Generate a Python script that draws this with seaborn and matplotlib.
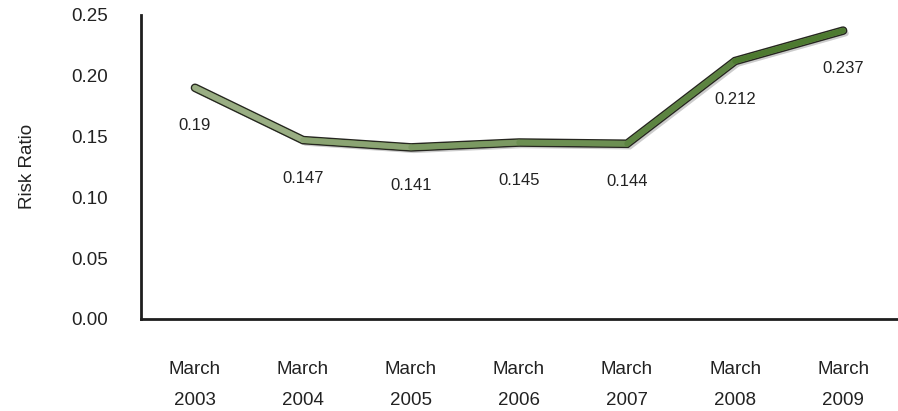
"""
Risk ratio by year, single line with value labels
"""

import numpy as np
import pandas as pd
import matplotlib
matplotlib.use("Agg")
import matplotlib.pyplot as plt
import matplotlib.patheffects as pe
from matplotlib.collections import LineCollection
from matplotlib.colors import LinearSegmentedColormap
import seaborn as sns

# data
periods = ["March\n2003", "March\n2004", "March\n2005", "March\n2006",
           "March\n2007", "March\n2008", "March\n2009"]
risk_ratio = [0.19, 0.147, 0.141, 0.145, 0.144, 0.212, 0.237]
value_labels = ["0.19", "0.147", "0.141", "0.145", "0.144", "0.212", "0.237"]
y_ticks = [0.00, 0.05, 0.10, 0.15, 0.20, 0.25]

sns.set_theme(style="white")
plt.rcParams["font.family"] = ["Liberation Sans", "DejaVu Sans"]

df = pd.DataFrame({"pos": np.arange(len(periods)), "ratio": risk_ratio})

fig = plt.figure(figsize=(8.98, 4.11), dpi=100)
ax = fig.add_axes([0.157, 0.224, 0.842, 0.740])

# outlined base line with a soft shadow
sns.lineplot(
    data=df, x="pos", y="ratio", ax=ax, color="#6f9152", linewidth=4.2,
    solid_capstyle="round", solid_joinstyle="miter",
    path_effects=[
        pe.SimpleLineShadow(offset=(2, -2), shadow_color="black", alpha=0.2),
        pe.Stroke(linewidth=6.2, foreground="#262620"),
        pe.Normal(),
    ],
)

# light-to-dark green fill along the line
cmap = LinearSegmentedColormap.from_list("grn", ["#9aae84", "#4d7a30"])
pts = np.column_stack([df["pos"], df["ratio"]])
segs = np.stack([pts[:-1], pts[1:]], axis=1)
lc = LineCollection(segs, colors=[cmap(i / (len(segs) - 1)) for i in range(len(segs))],
                    linewidths=4.0, capstyle="round", joinstyle="round", zorder=3)
ax.add_collection(lc)

for x, y, lab in zip(df["pos"], df["ratio"], value_labels):
    ax.annotate(lab, (x, y), xytext=(0, -27.5), textcoords="offset points",
                ha="center", va="center", fontsize=12, color="#222222")

ax.set_xlim(-0.5, len(periods) - 0.5)
ax.set_ylim(0, 0.25)
ax.set_xticks(df["pos"])
ax.set_xticklabels(periods, linespacing=2.1)
ax.set_yticks(y_ticks)
ax.set_yticklabels([f"{t:.2f}" for t in y_ticks])
ax.tick_params(axis="x", length=0, pad=30, labelsize=13.5, labelcolor="#222222")
ax.tick_params(axis="y", length=0, pad=24, labelsize=13.5, labelcolor="#222222")
ax.set_xlabel("")
ax.set_ylabel("Risk Ratio", fontsize=13.5, color="#222222", labelpad=25)

sns.despine(ax=ax)
for side in ["left", "bottom"]:
    ax.spines[side].set_color("#1e1e1e")
    ax.spines[side].set_linewidth(2.0)

fig.savefig("out.png", dpi=100)
